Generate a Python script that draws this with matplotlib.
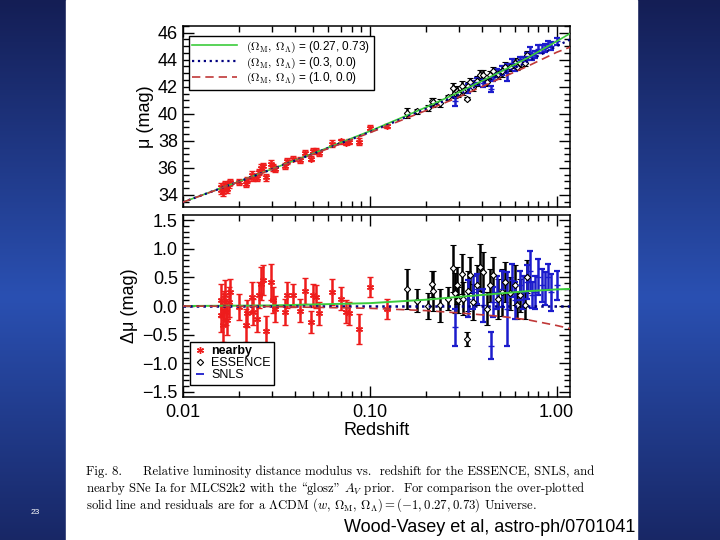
import matplotlib.pyplot as plt
import matplotlib.ticker as ticker
from matplotlib.lines import Line2D
from matplotlib.patches import Rectangle
import numpy as np

# residuals
near_z = [0.0160, 0.0161, 0.0164, 0.0166, 0.0169, 0.0170, 0.0173, 0.0176, 0.0179,
          0.0199, 0.0218, 0.0222, 0.0234, 0.0239, 0.0249, 0.0255, 0.0261, 0.0270,
          0.0279, 0.0296, 0.0305, 0.0312, 0.0353, 0.0360, 0.0391, 0.0424, 0.0451,
          0.0484, 0.0500, 0.0516, 0.0538, 0.0626, 0.0703, 0.0747, 0.0779, 0.0877,
          0.1004, 0.1233]
near_dmu = [0.10, -0.16, -0.34, 0.01, 0.19, -0.10, -0.25, 0.07, 0.24,
            -0.02, -0.34, -0.13, 0.16, -0.10, -0.22, 0.19, 0.39, 0.45,
            -0.43, 0.42, 0.10, -0.05, -0.10, 0.19, 0.19, -0.08, 0.26,
            -0.28, 0.19, 0.16, -0.13, 0.24, 0.13, -0.10, -0.13, -0.40,
            0.33, -0.05]
near_err = [0.29, 0.29, 0.29, 0.26, 0.26, 0.23, 0.26, 0.26, 0.23,
            0.23, 0.29, 0.23, 0.26, 0.23, 0.23, 0.23, 0.29, 0.26,
            0.26, 0.32, 0.23, 0.23, 0.23, 0.23, 0.20, 0.20, 0.23,
            0.20, 0.20, 0.20, 0.20, 0.23, 0.20, 0.20, 0.20, 0.26,
            0.17, 0.17]

ess_z = [0.158, 0.180, 0.204, 0.215, 0.217, 0.238, 0.264, 0.280, 0.286, 0.292,
         0.298, 0.311, 0.317, 0.330, 0.337, 0.344, 0.359, 0.374, 0.389, 0.405,
         0.423, 0.440, 0.459, 0.488, 0.508, 0.529, 0.563, 0.599, 0.611, 0.637,
         0.677, 0.691]
ess_dmu = [0.29, 0.09, 0.00, 0.39, 0.27, 0.01, 0.13, 0.66, 0.23, 0.36,
           0.10, 0.56, 0.13, -0.57, 0.27, 0.54, 0.07, 0.36, 0.68, 0.59,
           -0.05, 0.36, 0.54, 0.13, 0.24, 0.42, 0.22, 0.36, 0.01, 0.19,
           0.01, 0.51]
ess_err = [0.35, 0.20, 0.23, 0.23, 0.35, 0.29, 0.20, 0.41, 0.35, 0.32,
           0.23, 0.35, 0.29, 0.12, 0.35, 0.32, 0.32, 0.35, 0.41, 0.35,
           0.29, 0.29, 0.32, 0.35, 0.41, 0.35, 0.29, 0.35, 0.23, 0.29,
           0.23, 0.29]

snls_z = [0.286, 0.337, 0.359, 0.377, 0.405, 0.444, 0.459, 0.478, 0.508, 0.540,
          0.575, 0.599, 0.637, 0.663, 0.691, 0.720, 0.735, 0.766, 0.798, 0.831,
          0.866, 0.903, 0.929, 1.000]
snls_dmu = [-0.37, 0.13, 0.24, 0.30, 0.01, -0.69, 0.07, 0.24, 0.30, -0.05,
            0.45, 0.10, 0.36, 0.24, 0.42, 0.62, 0.19, 0.24, 0.51, 0.36,
            0.30, 0.51, 0.24, 0.36]
snls_err = [0.32, 0.32, 0.29, 0.26, 0.29, 0.23, 0.26, 0.29, 0.32, 0.64,
            0.29, 0.32, 0.26, 0.29, 0.29, 0.35, 0.23, 0.29, 0.32, 0.29,
            0.29, 0.23, 0.32, 0.26]

# model curves
mod_z = [0.01, 0.02, 0.05, 0.1, 0.2, 0.3, 0.5, 0.7, 1.0, 1.2]
mu_lcdm = [33.45, 34.99, 37.07, 38.71, 40.48, 41.59, 43.10, 44.14, 45.36, 46.00]
mu_open = [33.45, 34.98, 37.04, 38.64, 40.36, 41.42, 42.88, 43.86, 45.00, 45.55]
mu_eds = [33.45, 34.97, 37.01, 38.59, 40.24, 41.24, 42.62, 43.52, 44.55, 44.97]

res_z = [0.01, 0.03, 0.1, 0.2, 0.3, 0.5, 0.7, 1.0, 1.2]
res_lcdm = [0.0, 0.01, 0.05, 0.11, 0.16, 0.22, 0.26, 0.29, 0.30]
res_open = [0.0, 0.0, 0.0, 0.0, 0.0, 0.0, 0.0, 0.0, 0.0]
res_eds = [0.0, -0.01, -0.04, -0.08, -0.12, -0.18, -0.24, -0.34, -0.40]

model_labels = [r'$(\Omega_{\rm M},\,\Omega_\Lambda)$ = (0.27, 0.73)',
                r'$(\Omega_{\rm M},\,\Omega_\Lambda)$ = (0.3, 0.0)',
                r'$(\Omega_{\rm M},\,\Omega_\Lambda)$ = (1.0, 0.0)']
set_labels = ['nearby', 'ESSENCE', 'SNLS']

plt.rcParams['font.family'] = ['Liberation Sans', 'DejaVu Sans']

RED = '#ee1c1c'
BLUE = '#1c1ccc'
GREEN = '#3ccc3c'
NAVY = '#000080'
DRED = '#c03838'
ASTER = (6, 2, 0)

fig = plt.figure(figsize=(7.2, 5.4), dpi=100)

# slide background
bg = fig.add_axes([0, 0, 1, 1], zorder=-10)
t = np.linspace(0, 1, 256)
w = 1 - np.abs(t - 0.55) / 0.55
dark = np.array([20, 30, 85]) / 255
light = np.array([42, 80, 178]) / 255
grad = dark[None, :] + (light - dark)[None, :] * w[:, None]
bg.imshow(grad[:, None, :], extent=(0, 1, 0, 1), aspect='auto', origin='upper')
bg.add_patch(Rectangle((66 / 720, 0), (637 - 66) / 720, 1, color='white'))
bg.set_xlim(0, 1)
bg.set_ylim(0, 1)
bg.axis('off')

ax1 = fig.add_axes([0.2538, 0.6167, 0.5379, 0.3352])
ax2 = fig.add_axes([0.2538, 0.2648, 0.5379, 0.3370])

def mu_of(z, dmu):
    base = np.interp(np.log10(z), np.log10(mod_z), mu_open)
    return base + np.array(dmu)

eb = dict(capsize=2, elinewidth=1.8, capthick=1.6, ls='none')

for ax, top in [(ax1, True), (ax2, False)]:
    if top:
        yn, ye, ys = mu_of(near_z, near_dmu), mu_of(ess_z, ess_dmu), mu_of(snls_z, snls_dmu)
    else:
        yn, ye, ys = near_dmu, ess_dmu, snls_dmu
    ax.errorbar(near_z, yn, yerr=near_err, marker=ASTER, ms=5, mew=1, color=RED, **eb)
    ax.errorbar(ess_z, ye, yerr=ess_err, marker='D', ms=3.2, mfc='white', mec='black',
                mew=0.8, color='black', **eb)
    ax.errorbar(snls_z, ys, yerr=snls_err, marker='_', ms=5, color=BLUE, **eb)

l1, = ax1.plot(mod_z, mu_lcdm, color=GREEN, lw=1.2, zorder=5)
l2, = ax1.plot(mod_z, mu_open, color=NAVY, lw=1.6, ls=':', zorder=5)
l3, = ax1.plot(mod_z, mu_eds, color=DRED, lw=1.2, dashes=(5, 3), zorder=5)
ax2.plot(res_z, res_lcdm, color=GREEN, lw=1.4, zorder=5)
ax2.plot(res_z, res_open, color=NAVY, lw=1.8, ls=':', zorder=5)
ax2.plot(res_z, res_eds, color=DRED, lw=1.2, dashes=(5, 3), zorder=5)

for ax in (ax1, ax2):
    ax.set_xscale('log')
    ax.set_xlim(0.01, 1.18)
    ax.xaxis.set_major_locator(ticker.FixedLocator([0.01, 0.1, 1.0]))
    ax.xaxis.set_major_formatter(ticker.FuncFormatter(lambda v, p: '%.2f' % v))
    ax.xaxis.set_minor_locator(ticker.LogLocator(subs=np.arange(2, 10)))
    ax.xaxis.set_minor_formatter(ticker.NullFormatter())
    ax.tick_params(which='both', direction='in', top=True, right=True, labelsize=13, width=1)
    ax.tick_params(which='major', length=8)
    ax.tick_params(which='minor', length=4)
    for s in ax.spines.values():
        s.set_linewidth(1.1)

ax1.set_ylim(33.1, 46.5)
ax1.yaxis.set_major_locator(ticker.MultipleLocator(2))
ax1.yaxis.set_minor_locator(ticker.MultipleLocator(0.5))
ax1.tick_params(labelbottom=False)
ax1.set_ylabel('μ (mag)', fontsize=13, labelpad=3)

ax2.set_ylim(-1.59, 1.59)
ax2.yaxis.set_major_locator(ticker.MultipleLocator(0.5))
ax2.yaxis.set_minor_locator(ticker.MultipleLocator(0.1))
ax2.yaxis.set_major_formatter(ticker.FuncFormatter(lambda v, p: ('%.1f' % v).replace('-', '\u2212')))
ax2.set_ylabel('Δμ (mag)', fontsize=13, labelpad=3)
ax2.set_xlabel('Redshift', fontsize=13, labelpad=1)
ax2.tick_params(axis='x', pad=5)

leg1 = ax1.legend([l1, l2, l3], model_labels, loc='upper left', bbox_to_anchor=(0.015, 0.945),
                  fontsize=8.5, frameon=True, fancybox=False, edgecolor='black', framealpha=1,
                  handlelength=3.8, borderpad=0.3, labelspacing=0.05, borderaxespad=0)
leg1.get_frame().set_linewidth(1)
for tx in leg1.get_texts():
    tx.set_math_fontfamily('cm')

h = [Line2D([], [], ls='none', marker=ASTER, ms=5, color=RED),
     Line2D([], [], ls='none', marker='D', ms=3.2, mfc='white', mec='black', mew=0.8),
     Line2D([], [], ls='none', marker='_', ms=6, color=BLUE, mew=1.3)]
leg2 = ax2.legend(h, set_labels, loc='lower left', bbox_to_anchor=(0.018, 0.065), fontsize=9,
                  frameon=True, fancybox=False, edgecolor='black', framealpha=1,
                  handlelength=1.0, handletextpad=0.4, borderpad=0.3, labelspacing=0.0,
                  borderaxespad=0)
leg2.get_frame().set_linewidth(1)
leg2.get_texts()[0].set_fontweight('bold')

cap = ['Fig. 8.     Relative luminosity distance modulus vs.  redshift for the ESSENCE, SNLS, and',
       'nearby SNe Ia for MLCS2k2 with the \\glosz" $A_V$ prior.  For comparison the over-plotted',
       r'solid line and residuals are for a $\Lambda$CDM $(w,\,\Omega_{\rm M},\,\Omega_\Lambda) = (-1, 0.27, 0.73)$ Universe.']
for i, line in enumerate(cap):
    fig.text(86 / 720, 1 - (472 + 16.5 * i) / 540, line, fontsize=9.2, va='center', ha='left',
             family=['cmr10', 'DejaVu Serif'], math_fontfamily='cm')

fig.text(635 / 720, 1 - 527 / 540, 'Wood-Vasey et al, astro-ph/0701041', fontsize=13,
         ha='right', va='center', color='black')
fig.text(35 / 720, 1 - 513 / 540, '23', fontsize=6, ha='center', va='center', color='white')

fig.savefig('out.png', dpi=100)
